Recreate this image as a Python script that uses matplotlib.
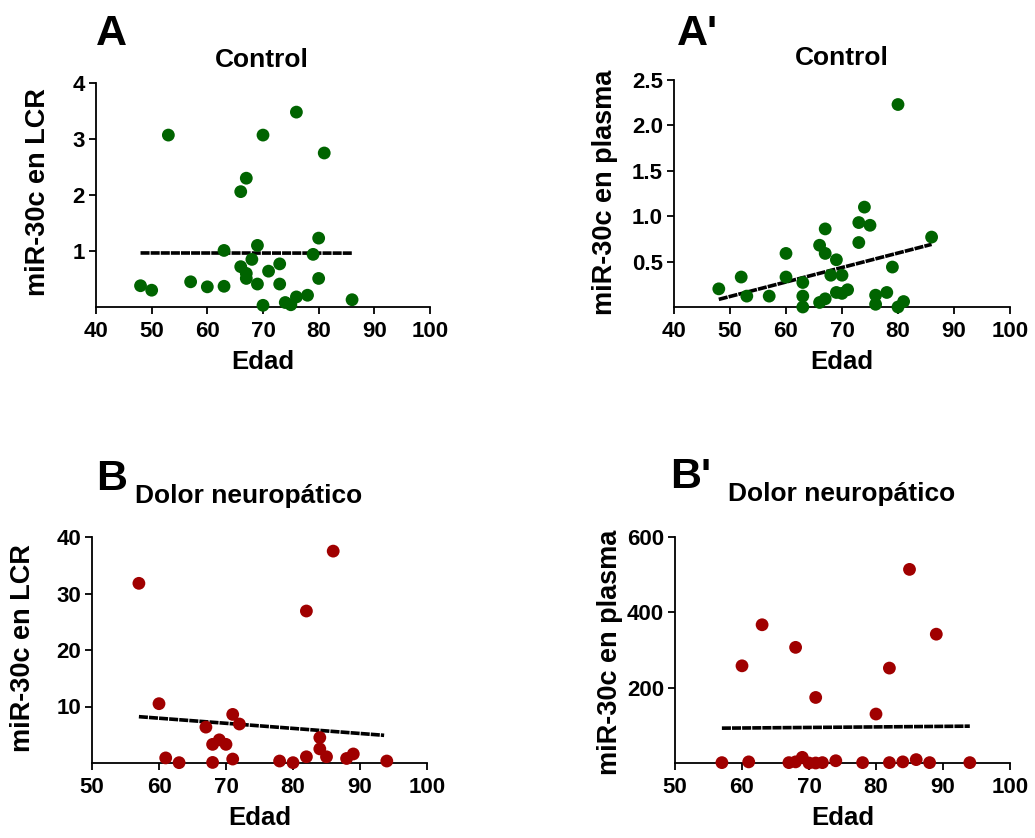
import numpy as np
import matplotlib
matplotlib.use("Agg")
import matplotlib.pyplot as plt

plt.rcParams['font.family'] = ['Liberation Sans', 'DejaVu Sans']
plt.rcParams['font.weight'] = 'bold'

GREEN = '#006400'
RED = '#a00000'

# A: control, LCR
edad_a = [48, 50, 53, 57, 60, 63, 63, 66, 67, 66, 67, 67, 68, 69, 69, 70, 70,
          71, 73, 73, 74, 75, 76, 76, 78, 79, 80, 80, 81, 86]
lcr_a = [0.38, 0.30, 3.07, 0.45, 0.36, 0.37, 1.01, 2.06, 2.30, 0.72, 0.60, 0.51,
         0.85, 1.10, 0.41, 3.07, 0.03, 0.64, 0.77, 0.41, 0.08, 0.04, 3.48, 0.18,
         0.21, 0.94, 1.23, 0.51, 2.75, 0.13]
fit_x_a = [48, 86]
fit_y_a = [0.965, 0.962]

# A': control, plasma
edad_a2 = [48, 52, 53, 57, 60, 60, 63, 63, 63, 66, 66, 67, 67, 67, 68, 69, 69,
           70, 70, 71, 73, 73, 74, 75, 76, 76, 78, 79, 80, 80, 81, 86]
plasma_a2 = [0.20, 0.33, 0.12, 0.12, 0.59, 0.33, 0.27, 0.12, 0.00, 0.68, 0.05,
             0.86, 0.59, 0.09, 0.35, 0.52, 0.16, 0.35, 0.15, 0.19, 0.93, 0.71,
             1.10, 0.90, 0.13, 0.03, 0.16, 0.44, 2.23, 0.00, 0.06, 0.77]
fit_x_a2 = [48, 86]
fit_y_a2 = [0.084, 0.69]

# B: dolor neuropatico, LCR
edad_b = [57, 60, 61, 63, 67, 68, 68, 69, 70, 71, 71, 72, 78, 80, 82, 82, 84,
          84, 85, 86, 88, 89, 94]
lcr_b = [31.8, 10.5, 0.9, 0.06, 6.35, 3.3, 0.1, 4.1, 3.3, 8.6, 0.7, 6.9, 0.35,
         0.06, 26.9, 1.1, 4.5, 2.5, 1.1, 37.5, 0.8, 1.6, 0.35]
fit_x_b = [57, 93.6]
fit_y_b = [8.2, 4.9]

# B': dolor neuropatico, plasma
edad_b2 = [57, 60, 61, 63, 67, 68, 68, 69, 70, 71, 71, 72, 74, 78, 80, 82, 82,
           84, 85, 86, 88, 89, 94]
plasma_b2 = [1, 258, 3, 367, 1, 307, 3, 15, 0, 174, 0, 1, 6, 1, 130, 252, 1, 3,
             514, 9, 1, 342, 1]
fit_x_b2 = [57, 94]
fit_y_b2 = [92.5, 97.8]

W, H = 1035, 838
fig = plt.figure(figsize=(W / 100, H / 100), dpi=100)


def px_axes(left, top, right, bottom):
    return fig.add_axes([left / W, 1 - bottom / H, (right - left) / W, (bottom - top) / H])


def panel(ax, x, y, fx, fy, color, xlim, ylim, yticks, ylabels):
    ax.scatter(x, y, s=85, color=color, edgecolors='none', zorder=3, clip_on=False)
    ax.plot(fx, fy, color='black', lw=2.6, ls=(0, (2.5, 0.3)), zorder=2)
    ax.set_xlim(*xlim)
    ax.set_ylim(*ylim)
    ax.set_xticks(np.arange(xlim[0], xlim[1] + 1, 10))
    ax.set_yticks(yticks)
    ax.set_yticklabels(ylabels)
    for s in ['top', 'right']:
        ax.spines[s].set_visible(False)
    for s in ['left', 'bottom']:
        ax.spines[s].set_linewidth(1.3)
    ax.tick_params(length=5, width=1.3, labelsize=16, pad=3)
    ax.tick_params(axis='x', pad=5)
    ax.set_xlabel('Edad', fontsize=18.5, fontweight='bold', labelpad=6)


axA = px_axes(96, 83, 430, 307)
panel(axA, edad_a, lcr_a, fit_x_a, fit_y_a, GREEN, (40, 100), (0, 4),
      [1, 2, 3, 4], ['1', '2', '3', '4'])

axA2 = px_axes(674, 80, 1010, 307)
panel(axA2, edad_a2, plasma_a2, fit_x_a2, fit_y_a2, GREEN, (40, 100), (0, 2.5),
      [0.5, 1.0, 1.5, 2.0, 2.5], ['0.5', '1.0', '1.5', '2.0', '2.5'])

axB = px_axes(92, 537, 427, 763)
panel(axB, edad_b, lcr_b, fit_x_b, fit_y_b, RED, (50, 100), (0, 40),
      [10, 20, 30, 40], ['10', '20', '30', '40'])

axB2 = px_axes(675, 537, 1010, 763)
panel(axB2, edad_b2, plasma_b2, fit_x_b2, fit_y_b2, RED, (50, 100), (0, 600),
      [200, 400, 600], ['200', '400', '600'])

# y axis labels
ylab_kw = dict(rotation=90, ha='center', va='center', fontsize=19.5, fontweight='bold')
fig.text(38 / W, 1 - 192 / H, 'miR-30c en LCR', **ylab_kw)
fig.text(605 / W, 1 - 192 / H, 'miR-30c en plasma', **ylab_kw)
fig.text(23 / W, 1 - 648 / H, 'miR-30c en LCR', **ylab_kw)
fig.text(610 / W, 1 - 652 / H, 'miR-30c en plasma', **ylab_kw)

# titles and panel letters
fig.text(262 / W, 1 - 67 / H, 'Control', ha='center', va='baseline', fontsize=19, fontweight='bold')
fig.text(842 / W, 1 - 65 / H, 'Control', ha='center', va='baseline', fontsize=19, fontweight='bold')
fig.text(249 / W, 1 - 503 / H, 'Dolor neuropático', ha='center', va='baseline', fontsize=19, fontweight='bold')
fig.text(842 / W, 1 - 501 / H, 'Dolor neuropático', ha='center', va='baseline', fontsize=19, fontweight='bold')

fig.text(96 / W, 1 - 45 / H, 'A', ha='left', va='baseline', fontsize=31, fontweight='bold')
fig.text(677 / W, 1 - 45 / H, "A'", ha='left', va='baseline', fontsize=31, fontweight='bold')
fig.text(96 / W, 1 - 490 / H, 'B', ha='left', va='baseline', fontsize=31, fontweight='bold')
fig.text(670 / W, 1 - 488 / H, "B'", ha='left', va='baseline', fontsize=31, fontweight='bold')

fig.savefig('out.png', dpi=100)
